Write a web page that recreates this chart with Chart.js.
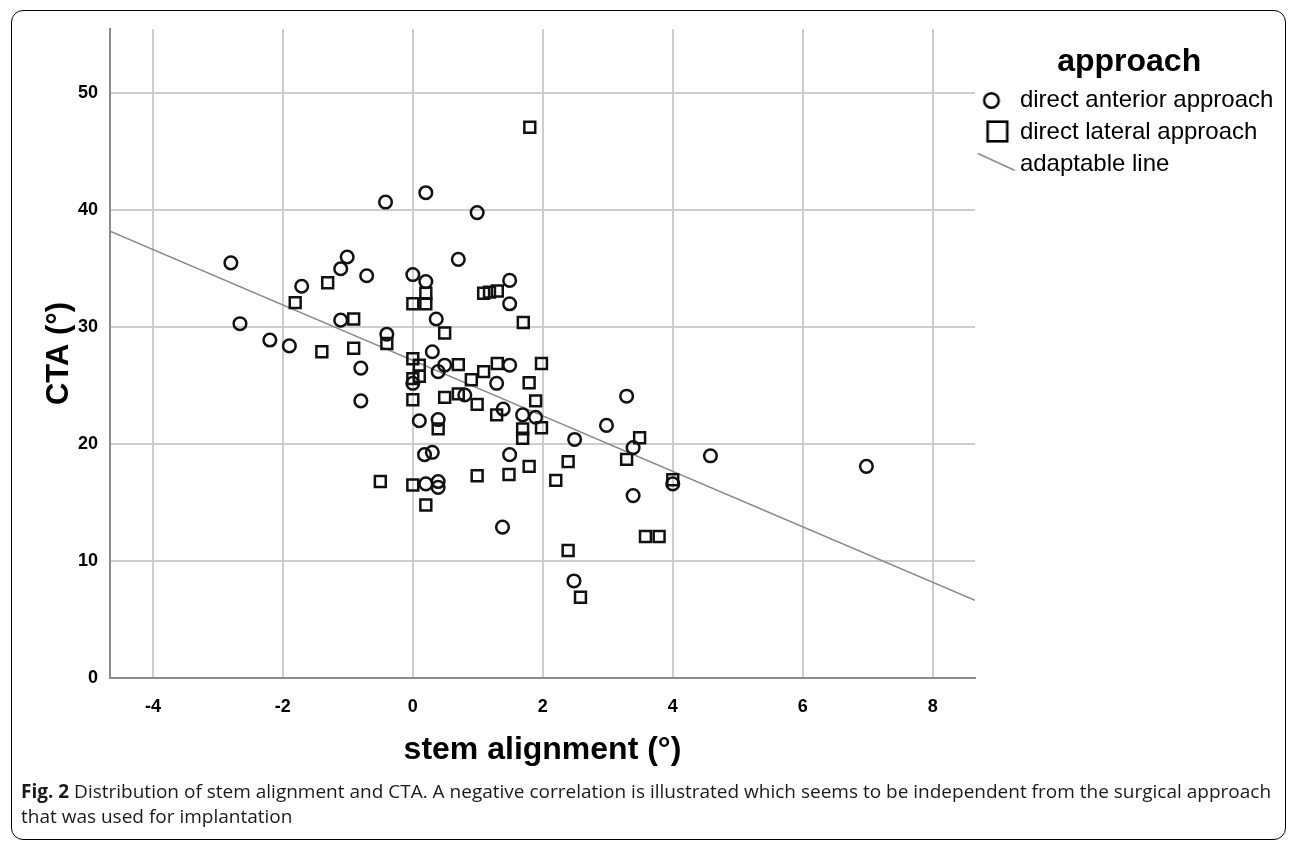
<!DOCTYPE html>
<html>
<head>
<meta charset="utf-8">
<script src="https://cdn.jsdelivr.net/npm/chart.js@4.4.0/dist/chart.umd.min.js"></script>
<style>
  html, body { margin: 0; padding: 0; background: #fff; }
  body { width: 1296px; height: 843px; position: relative; overflow: hidden; }
  #frame { position: absolute; left: 11px; top: 10px; width: 1275px; height: 830px; border: 1.5px solid #000; border-radius: 12px; box-sizing: border-box; }
  #chart { position: absolute; left: 0; top: 0; }
  #caption { position: absolute; left: 21px; top: 779px; font-family: 'Open Sans', sans-serif; font-size: 19px; line-height: 25px; color: #1a1a1a; white-space: nowrap; }
</style>
</head>
<body>
<div id="frame"></div>
<canvas id="chart" width="1296" height="780"></canvas>
<div id="caption"><b>Fig. 2</b> Distribution of stem alignment and CTA. A negative correlation is illustrated which seems to be independent from the surgical approach<br>that was used for implantation</div>
<script>
const xTicks = [-4, -2, 0, 2, 4, 6, 8];
const yTicks = [0, 10, 20, 30, 40, 50];
const xMin = -4.66, xMax = 8.65;
const yMin = 0, yMax = 55.5;

// direct anterior approach (circles)
const anteriorX = [-2.8, -2.66, -2.2, -1.9, -1.71, -1.11, -1.01, -1.11, -0.8, -0.8,
  -0.71, -0.42, -0.4, 0.0, 0.0, 0.1, 0.2, 0.2, 0.18, 0.3,
  0.2, 0.3, 0.36, 0.39, 0.39, 0.39, 0.39, 0.49, 0.7, 0.8,
  0.99, 1.29, 1.39, 1.38, 1.49, 1.49, 1.49, 1.49, 1.69, 1.89,
  2.49, 2.48, 2.98, 3.29, 3.39, 3.39, 4.0, 4.58, 6.98];
const anteriorY = [35.5, 30.3, 28.9, 28.4, 33.5, 35.0, 36.0, 30.6, 26.5, 23.7,
  34.4, 40.7, 29.4, 34.5, 25.2, 22.0, 41.5, 33.9, 19.1, 19.3,
  16.6, 27.9, 30.7, 26.2, 22.1, 16.8, 16.3, 26.75, 35.8, 24.2,
  39.8, 25.2, 23.0, 12.9, 34.0, 32.0, 26.75, 19.1, 22.5, 22.3,
  20.4, 8.3, 21.6, 24.1, 19.7, 15.6, 16.6, 19.0, 18.1];

// direct lateral approach (squares)
const lateralX = [-1.81, -1.4, -1.31, -0.91, -0.91, -0.5, -0.4, 0.0, 0.2, 0.2,
  0.0, 0.1, 0.1, 0.0, 0.0, 0.0, 0.2, 0.39, 0.49, 0.49,
  0.7, 0.7, 0.9, 0.99, 0.99, 1.09, 1.18, 1.3, 1.09, 1.3,
  1.29, 1.48, 1.7, 1.69, 1.69, 1.79, 1.79, 1.8, 1.89, 1.98,
  1.98, 2.2, 2.39, 2.39, 2.58, 3.29, 3.49, 3.58, 3.79, 4.0];
const lateralY = [32.1, 27.9, 33.8, 30.7, 28.2, 16.8, 28.6, 32.0, 32.9, 32.0,
  27.3, 26.75, 25.8, 25.6, 23.8, 16.5, 14.8, 21.3, 29.5, 24.0,
  26.8, 24.3, 25.5, 23.4, 17.3, 32.9, 33.0, 33.1, 26.2, 26.9,
  22.5, 17.4, 30.4, 21.3, 20.5, 25.25, 18.1, 47.1, 23.7, 26.9,
  21.4, 16.9, 18.5, 10.9, 6.9, 18.7, 20.55, 12.1, 12.1, 16.95];

function toPoints(xs, ys) {
  return xs.map((x, i) => ({ x: x, y: ys[i] }));
}

// adaptable line : moindres carrés sur tous les points
function fitLine(xs, ys) {
  const n = xs.length;
  const mx = xs.reduce((a, b) => a + b, 0) / n;
  const my = ys.reduce((a, b) => a + b, 0) / n;
  let sxy = 0, sxx = 0;
  for (let i = 0; i < n; i++) {
    sxy += (xs[i] - mx) * (ys[i] - my);
    sxx += (xs[i] - mx) * (xs[i] - mx);
  }
  const slope = sxy / sxx;
  const intercept = my - slope * mx;
  return [xMin, xMax].map(x => ({ x: x, y: intercept + slope * x }));
}

const allX = anteriorX.concat(lateralX);
const allY = anteriorY.concat(lateralY);

// legend icons
function makeIcon(draw) {
  const c = document.createElement('canvas');
  c.width = 60;
  c.height = 40;
  draw(c.getContext('2d'));
  return c;
}
const circleIcon = makeIcon(g => {
  g.lineWidth = 2.5; g.strokeStyle = '#000';
  g.beginPath(); g.arc(26, 20.5, 7.3, 0, Math.PI * 2); g.stroke();
});
const squareIcon = makeIcon(g => {
  g.lineWidth = 2.6; g.strokeStyle = '#000';
  g.strokeRect(32 - 9.8, 19.5 - 9.8, 19.6, 19.6);
});
const lineIcon = makeIcon(g => {
  g.lineWidth = 1.5; g.strokeStyle = '#8a8a8a';
  g.beginPath(); g.moveTo(12.5, 9.5); g.lineTo(49.5, 26.5); g.stroke();
});

Chart.defaults.font.family = "'Liberation Sans', Arial, sans-serif";

const gridColor = '#cdcdcd';
const axisColor = '#8c8c8c';

const ctx = document.getElementById('chart').getContext('2d');
new Chart(ctx, {
  type: 'scatter',
  data: {
    datasets: [{
      label: 'direct anterior approach',
      data: toPoints(anteriorX, anteriorY),
      pointStyle: 'circle',
      pointRadius: 6.3,
      borderColor: '#111',
      borderWidth: 2.5,
      backgroundColor: 'rgba(0,0,0,0)',
    }, {
      label: 'direct lateral approach',
      data: toPoints(lateralX, lateralY),
      pointStyle: 'rect',
      pointRadius: 7.7,
      borderColor: '#111',
      borderWidth: 2.5,
      backgroundColor: 'rgba(0,0,0,0)',
    }, {
      label: 'adaptable line',
      data: fitLine(allX, allY),
      showLine: true,
      pointRadius: 0,
      borderColor: '#8a8a8a',
      borderWidth: 1.5,
    }]
  },
  options: {
    responsive: false,
    animation: false,
    devicePixelRatio: 1,
    layout: { padding: { left: 0, top: 29, right: 12.6, bottom: 0 } },
    plugins: {
      tooltip: { enabled: false },
      legend: {
        position: 'right',
        align: 'start',
        title: {
          display: true,
          text: 'approach',
          color: '#000',
          font: { size: 32, weight: 'bold', lineHeight: 1 },
          padding: { top: 17, bottom: 2 },
        },
        labels: {
          usePointStyle: true,
          pointStyleWidth: 25,
          padding: 8,
          color: '#111',
          font: { size: 24 },
          generateLabels: () => [
            { text: 'direct anterior approach', pointStyle: circleIcon, datasetIndex: 0, hidden: false, lineWidth: 0 },
            { text: 'direct lateral approach', pointStyle: squareIcon, datasetIndex: 1, hidden: false, lineWidth: 0 },
            { text: 'adaptable line', pointStyle: lineIcon, datasetIndex: 2, hidden: false, lineWidth: 0 },
          ],
        },
      },
    },
    scales: {
      x: {
        type: 'linear',
        min: xMin,
        max: xMax,
        afterBuildTicks: s => { s.ticks = xTicks.map(v => ({ value: v })); },
        afterFit: s => { s.height = 102; },
        grid: { color: gridColor, lineWidth: 2, drawTicks: false, tickLength: 0 },
        border: { color: axisColor, width: 2 },
        ticks: { padding: 18, color: '#000', font: { size: 18, weight: 'bold' } },
        title: {
          display: true,
          text: 'stem alignment (°)',
          color: '#000',
          font: { size: 32, weight: 'bold' },
          padding: { top: 0, bottom: 11 },
        },
      },
      y: {
        min: yMin,
        max: yMax,
        afterBuildTicks: s => { s.ticks = yTicks.map(v => ({ value: v })); },
        afterFit: s => { s.width = 110; },
        grid: { color: gridColor, lineWidth: 2, drawTicks: false, tickLength: 0 },
        border: { color: axisColor, width: 2 },
        ticks: { padding: 12, color: '#000', font: { size: 18, weight: 'bold' } },
        title: {
          display: true,
          text: 'CTA (°)',
          color: '#000',
          font: { size: 31, weight: 'bold' },
          padding: { top: 41, bottom: 0 },
        },
      },
    },
  }
});
</script>
</body>
</html>
